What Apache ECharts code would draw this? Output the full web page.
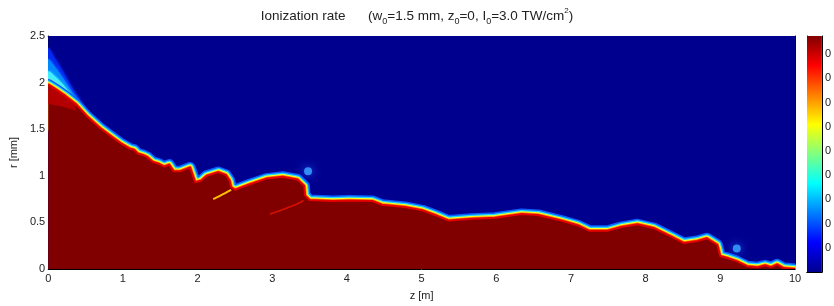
<!DOCTYPE html>
<html>
<head>
<meta charset="utf-8">
<script src="https://cdn.jsdelivr.net/npm/echarts@6/dist/echarts.min.js"></script>
<style>
  html, body { margin: 0; padding: 0; background: #fff; }
  #chart { width: 834px; height: 306px; }
</style>
</head>
<body>
<div id="chart"></div>
<script>
// plasma edge r(z) (z in m, r in mm)
var edgeZ = [0, 0.1, 0.21, 0.37, 0.52, 0.70, 0.85, 0.97, 1.10, 1.15, 1.20, 1.28, 1.33, 1.40, 1.48, 1.55, 1.62, 1.68, 1.77, 1.90, 1.97, 2.05, 2.12, 2.28, 2.38, 2.43, 2.45, 2.50, 2.70, 2.92, 3.14, 3.34, 3.43, 3.44, 3.50, 3.81, 4.03, 4.34, 4.47, 4.78, 5.01, 5.18, 5.36, 5.67, 5.98, 6.34, 6.56, 6.87, 7.09, 7.25, 7.49, 7.67, 7.89, 8.11, 8.34, 8.51, 8.69, 8.82, 8.96, 9.00, 9.09, 9.22, 9.36, 9.50, 9.60, 9.68, 9.76, 9.85, 10];
var edgeR = [1.98, 1.93, 1.87, 1.77, 1.64, 1.51, 1.42, 1.35, 1.29, 1.28, 1.24, 1.22, 1.20, 1.15, 1.13, 1.10, 1.12, 1.05, 1.05, 1.09, 0.93, 0.95, 1.00, 1.04, 1.01, 0.95, 0.88, 0.85, 0.91, 0.97, 0.99, 0.96, 0.89, 0.79, 0.74, 0.73, 0.735, 0.73, 0.69, 0.665, 0.63, 0.58, 0.52, 0.54, 0.55, 0.59, 0.58, 0.52, 0.47, 0.41, 0.41, 0.45, 0.48, 0.44, 0.35, 0.28, 0.30, 0.33, 0.26, 0.14, 0.12, 0.085, 0.03, 0.02, 0.04, 0.02, 0.05, 0.01, 0.0];

// folded tails below the two hooks
var tail1Z = [2.21, 2.30, 2.37, 2.45];
var tail1R = [0.75, 0.785, 0.815, 0.85];
var tail2Z = [2.97, 3.10, 3.23, 3.34, 3.42];
var tail2R = [0.59, 0.625, 0.665, 0.70, 0.735];

// wide glow at the start of the filament, outer to inner
var glowZ = [0, 0.1, 0.2, 0.32, 0.45];
var glowDeepR = [2.37, 2.25, 2.12, 1.95, 1.78];
var glowBlueR = [2.25, 2.16, 2.05, 1.90, 1.76];
var glowCyanR = [2.12, 2.06, 1.98, 1.86, 1.75];
var glowYellowR = [2.03, 1.99, 1.93, 1.83, 1.74];
var warmZ = [0.37, 0.2, 0.0];
var warmR = [1.70, 1.74, 1.77];

// isolated faint spots
var spotZ = [3.48, 9.22];
var spotR = [1.05, 0.22];

var jetStops = [
  [0, '#00008f'], [0.125, '#0000ff'], [0.375, '#00ffff'],
  [0.625, '#ffff00'], [0.875, '#ff0000'], [1, '#800000']
];

var chartDom = document.getElementById('chart');
var chart = echarts.init(chartDom);

function toPts(api, zs, rs) {
  return zs.map(function (z, i) { return api.coord([z, rs[i]]); });
}

function renderField(params, api) {
  var tl = api.coord([0, 2.5]);
  var br = api.coord([10, 0]);
  var edge = toPts(api, edgeZ, edgeR);
  var base = [api.coord([10, 0]), api.coord([0, 0])];
  var close = [api.coord([0.6, 1.5]), api.coord([0, 1.5])];
  var kids = [];
  kids.push({ type: 'rect', shape: { x: tl[0], y: tl[1], width: br[0] - tl[0], height: br[1] - tl[1] }, style: { fill: '#00008f' } });
  [[glowDeepR, '#0028f0'], [glowBlueR, '#0088ff'], [glowCyanR, '#40f0ff'], [glowYellowR, '#ffd800']].forEach(function (g) {
    kids.push({ type: 'polygon', shape: { points: toPts(api, glowZ, g[0]).concat(close), smooth: 0.25 }, style: { fill: g[1], shadowBlur: 3, shadowColor: g[1] } });
  });
  var glows = [['#0a5cff', 11], ['#22d8ff', 8], ['#ffff20', 5.5], ['#ff8c00', 3.5]];
  glows.forEach(function (g) {
    kids.push({ type: 'polyline', shape: { points: edge }, style: { stroke: g[0], lineWidth: g[1], fill: null, lineJoin: 'round', lineCap: 'round' } });
  });
  kids.push({ type: 'polygon', shape: { points: edge.concat(base) }, style: { fill: '#800000' } });
  var warm = toPts(api, edgeZ.slice(0, 4), edgeR.slice(0, 4)).concat(toPts(api, warmZ, warmR));
  kids.push({ type: 'polygon', shape: { points: warm }, style: { fill: '#c00000', opacity: 0.8 } });
  kids.push({ type: 'polyline', shape: { points: edge }, style: { stroke: '#e80000', lineWidth: 2, fill: null, lineJoin: 'round' } });
  kids.push({ type: 'polyline', shape: { points: toPts(api, tail1Z, tail1R), smooth: 0.3 }, style: { stroke: '#ffc000', lineWidth: 2, fill: null } });
  kids.push({ type: 'polyline', shape: { points: toPts(api, tail2Z, tail2R), smooth: 0.3 }, style: { stroke: '#d81000', lineWidth: 1.5, fill: null } });
  return { type: 'group', children: kids };
}

var labelFont = { color: '#222', fontSize: 11, fontFamily: 'Liberation Sans' };

var option = {
  animation: false,
  backgroundColor: '#fff',
  title: {
    text: '{t|Ionization rate      (w}{s|0}{t|=1.5 mm, z}{s|0}{t|=0, I}{s|0}{t|=3.0 TW/cm}{p|2}{t|)}',
    left: 'center',
    top: 0.5,
    textStyle: {
      fontWeight: 'normal',
      rich: {
        t: { fontSize: 13.5, fontFamily: 'Liberation Sans', color: '#222', lineHeight: 15, verticalAlign: 'top', padding: [4, 0, 0, 0] },
        s: { fontSize: 9, fontFamily: 'Liberation Sans', color: '#222', lineHeight: 10, verticalAlign: 'top', padding: [12, 0, 0, 0] },
        p: { fontSize: 8, fontFamily: 'Liberation Sans', color: '#222', lineHeight: 10, verticalAlign: 'top', padding: [1, 0, 0, 0] }
      }
    }
  },
  grid: [
    { left: 44, right: 39, top: 36, bottom: 33 },
    { left: 807, width: 18, top: 36, height: 236 }
  ],
  xAxis: [
    {
      type: 'value', gridIndex: 0, min: 0, max: 10, interval: 1, position: 'bottom',
      name: 'z [m]', nameLocation: 'middle', nameGap: 21,
      nameTextStyle: labelFont,
      axisLine: { onZero: false, lineStyle: { color: '#000', width: 1 } },
      axisTick: { inside: true, length: 4, lineStyle: { color: '#000' } },
      axisLabel: Object.assign({ margin: 4 }, labelFont),
      splitLine: { show: false }
    },
    {
      type: 'value', gridIndex: 0, min: 0, max: 10, interval: 1, position: 'top',
      axisLine: { onZero: false, lineStyle: { color: '#000', width: 1 } },
      axisTick: { inside: true, length: 4, lineStyle: { color: '#000' } },
      axisLabel: { show: false }, splitLine: { show: false }
    },
    {
      type: 'category', gridIndex: 1, data: ['c'], position: 'bottom',
      axisLine: { lineStyle: { color: '#000' } }, axisTick: { show: false }, axisLabel: { show: false }
    },
    {
      type: 'category', gridIndex: 1, data: ['c'], position: 'top',
      axisLine: { lineStyle: { color: '#000' } }, axisTick: { show: false }, axisLabel: { show: false }
    }
  ],
  yAxis: [
    {
      type: 'value', gridIndex: 0, min: 0, max: 2.5, interval: 0.5, position: 'left',
      name: 'r [mm]', nameLocation: 'middle', nameGap: 24, nameRotate: 90,
      nameTextStyle: labelFont,
      axisLine: { onZero: false, lineStyle: { color: '#000', width: 1 } },
      axisTick: { inside: true, length: 4, lineStyle: { color: '#000' } },
      axisLabel: Object.assign({ margin: 3, formatter: function (v) { return String(v); } }, labelFont),
      splitLine: { show: false }
    },
    {
      type: 'value', gridIndex: 0, min: 0, max: 2.5, interval: 0.5, position: 'right',
      axisLine: { onZero: false, lineStyle: { color: '#000', width: 1 } },
      axisTick: { inside: true, length: 4, lineStyle: { color: '#000' } },
      axisLabel: { show: false }, splitLine: { show: false }
    },
    {
      type: 'value', gridIndex: 1, min: 0, max: 9.75, interval: 1, position: 'left',
      axisLine: { show: true, lineStyle: { color: '#000' } },
      axisTick: { inside: true, length: 3, lineStyle: { color: '#000' } },
      axisLabel: { show: false }, splitLine: { show: false }
    },
    {
      type: 'value', gridIndex: 1, min: 0, max: 9.75, interval: 1, position: 'right',
      axisLine: { show: true, lineStyle: { color: '#000' } },
      axisTick: { inside: true, length: 3, lineStyle: { color: '#000' } },
      axisLabel: Object.assign({
        margin: 3,
        formatter: function (v) { return (v > 0 && v % 1 === 0) ? '0' : ''; }
      }, labelFont),
      splitLine: { show: false }
    }
  ],
  series: [
    {
      type: 'custom',
      xAxisIndex: 0, yAxisIndex: 0,
      clip: true,
      z: 1,
      data: [[0, 0]],
      renderItem: renderField
    },
    {
      type: 'scatter',
      xAxisIndex: 0, yAxisIndex: 0,
      z: 2,
      symbolSize: 8,
      itemStyle: { color: '#3aa0ff', opacity: 0.85, shadowBlur: 8, shadowColor: '#1a60ff' },
      data: spotZ.map(function (z, i) { return [z, spotR[i]]; })
    },
    {
      type: 'bar',
      xAxisIndex: 2, yAxisIndex: 2,
      barWidth: '100%',
      itemStyle: {
        color: new echarts.graphic.LinearGradient(0, 1, 0, 0, jetStops.map(function (s) {
          return { offset: s[0], color: s[1] };
        }))
      },
      data: [9.75]
    }
  ]
};

chart.setOption(option);
</script>
</body>
</html>
